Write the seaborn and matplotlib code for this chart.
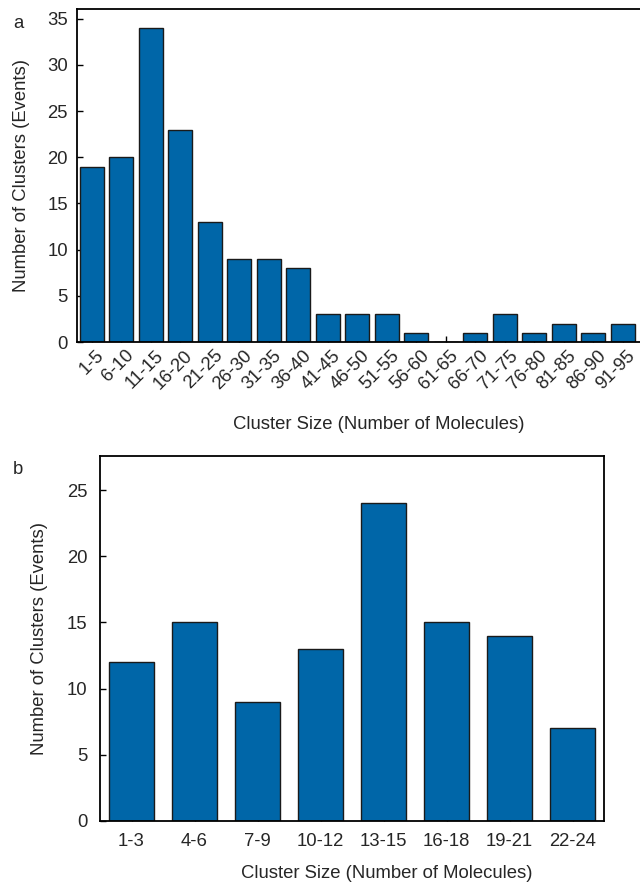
import numpy as np
import pandas as pd
import matplotlib
matplotlib.use("Agg")
import matplotlib.pyplot as plt
import matplotlib.transforms as mtransforms
import seaborn as sns

# panel a data
sizes_a = ["1-5", "6-10", "11-15", "16-20", "21-25", "26-30", "31-35", "36-40",
           "41-45", "46-50", "51-55", "56-60", "61-65", "66-70", "71-75",
           "76-80", "81-85", "86-90", "91-95"]
counts_a = [19, 20, 34, 23, 13, 9, 9, 8, 3, 3, 3, 1, 0, 1, 3, 1, 2, 1, 2]

# panel b data
sizes_b = ["1-3", "4-6", "7-9", "10-12", "13-15", "16-18", "19-21", "22-24"]
counts_b = [12, 15, 9, 13, 24, 15, 14, 7]

bar_color = "#0066A8"
xlab = "Cluster Size (Number of Molecules)"
ylab = "Number of Clusters (Events)"

sns.set_style("ticks")
plt.rcParams['font.family'] = ['Liberation Sans', 'DejaVu Sans']
plt.rcParams['font.size'] = 13.3

fig = plt.figure(figsize=(6.4, 8.84), dpi=100)
# top panel runs past the right edge of the figure, as in the source
ax1 = fig.add_axes([0.1203, 0.6131, 568 / 640, 0.3762])
ax2 = fig.add_axes([0.15625, 0.07127, 0.7875, 0.4132])

df_a = pd.DataFrame({"size": sizes_a, "count": counts_a})
df_b = pd.DataFrame({"size": sizes_b, "count": counts_b})

sns.barplot(data=df_a, x="size", y="count", color=bar_color, width=0.81,
            edgecolor="#1a1a1a", linewidth=1.0, saturation=1, ax=ax1)
sns.barplot(data=df_b, x="size", y="count", color=bar_color, width=0.70,
            edgecolor="#1a1a1a", linewidth=1.0, saturation=1, ax=ax2)

# panel a
ax1.set_xlim(-0.5, 18.75)
ax1.set_ylim(0, 36)
ax1.set_yticks(range(0, 36, 5))
ax1.tick_params(axis="both", direction="in", length=4.5, width=1.0, color="black",
                labelsize=13.3)
ax1.tick_params(axis="y", pad=6.5)
ax1.tick_params(axis="x", pad=3.5)
ax1.set_xticks(range(len(sizes_a)))
ax1.set_xticklabels(sizes_a, rotation=45, ha="right", va="top", rotation_mode="anchor")
offset = mtransforms.ScaledTranslation(4 / 100, 0, fig.dpi_scale_trans)
for lbl in ax1.get_xticklabels():
    lbl.set_transform(lbl.get_transform() + offset)
ax1.set_xlabel(xlab, fontsize=13.3)
ax1.set_ylabel(ylab, fontsize=13.3)
ax1.xaxis.set_label_coords((378.5 - 77) / 568, -(424 - 342) / 332.5)
ax1.yaxis.set_label_coords(-(77 - 22) / 568, 0.5)
ax1.spines["right"].set_visible(False)
for s in ["left", "bottom", "top"]:
    ax1.spines[s].set_linewidth(1.3)
    ax1.spines[s].set_color("black")

# panel b
ax2.set_xlim(-0.5, len(sizes_b) - 0.5)
ax2.set_ylim(0, 27.6)
ax2.set_yticks(range(0, 26, 5))
ax2.tick_params(axis="both", direction="in", length=4.5, width=1.0, color="black",
                labelsize=13.3)
ax2.tick_params(axis="y", pad=9)
ax2.tick_params(axis="x", pad=9)
ax2.set_xlabel(xlab, fontsize=13.3)
ax2.set_ylabel(ylab, fontsize=13.3)
ax2.xaxis.set_label_coords((386.7 - 100) / 504, -(874 - 821) / 365.3)
ax2.yaxis.set_label_coords(-(100 - 40) / 504, 0.5)
for s in ["left", "bottom", "top", "right"]:
    ax2.spines[s].set_linewidth(1.3)
    ax2.spines[s].set_color("black")

for ax in (ax1, ax2):
    ax.xaxis.label.set_va("center")
    ax.yaxis.label.set_va("center")

fig.text(18 / 640, 1 - 23 / 884, "a", fontsize=13.3, ha="center", va="center")
fig.text(17.5 / 640, 1 - 470 / 884, "b", fontsize=13.3, ha="center", va="center")

fig.savefig("out.png", dpi=100)
